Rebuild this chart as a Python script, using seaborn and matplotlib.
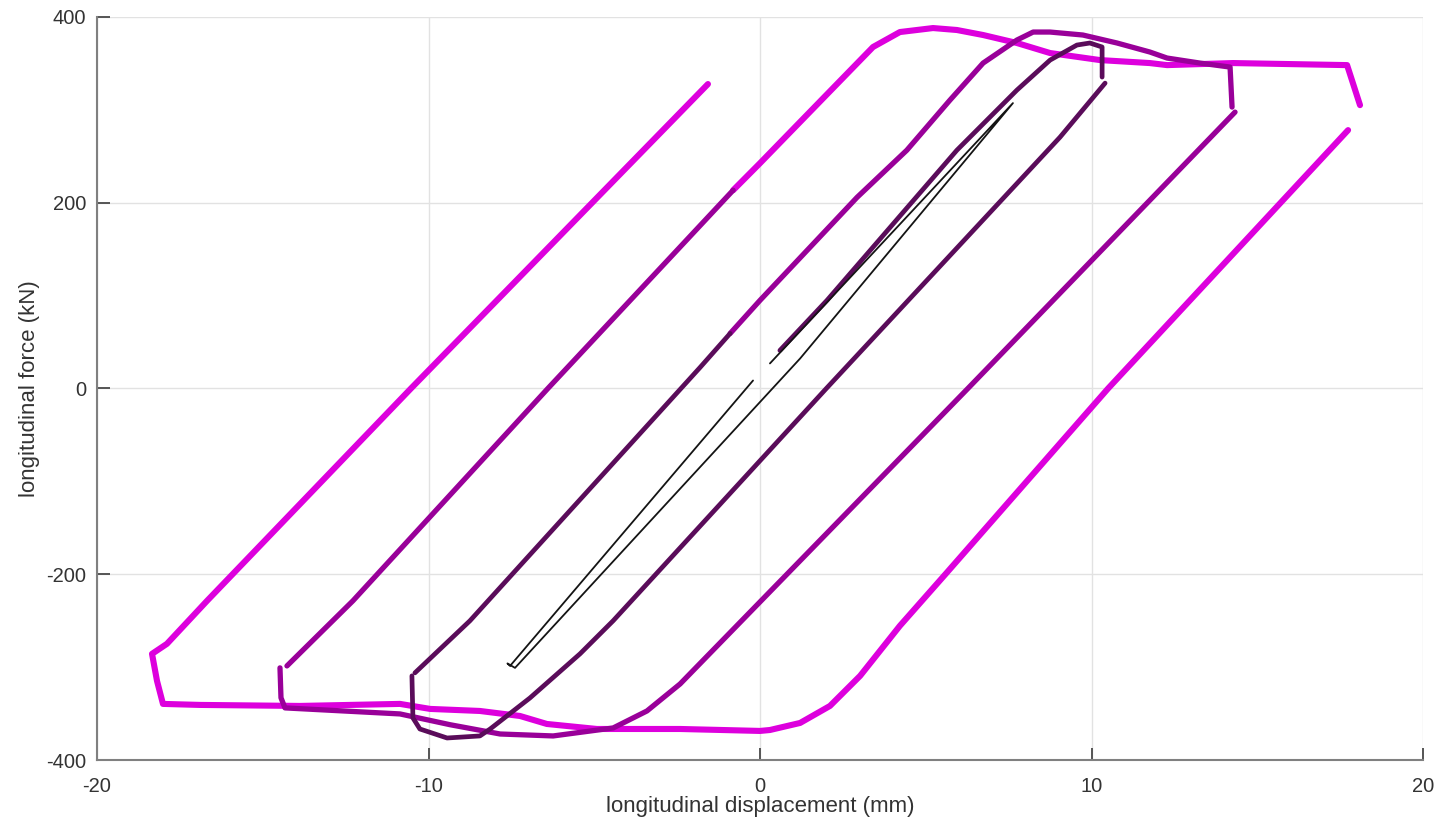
import numpy as np
import pandas as pd
import matplotlib
matplotlib.use("Agg")
import matplotlib.pyplot as plt
import seaborn as sns

# Hysteresis cycles: longitudinal displacement (mm) vs longitudinal force (kN).
# np.nan marks a break in the recorded trace.
nan = np.nan

c1_disp = [-0.21, -7.54, -7.62, -7.39, 1.21, 7.63, 0.30]
c1_force = [8.6, -298.7, -296.0, -300.8, 32.3, 307.3, 27.0]

c2_disp = [0.60, 2.02, 5.94, 7.75, 8.75, 9.56, 9.95, 10.32, 10.32, nan,
           10.41, 9.05, 2.0, -4.43, -5.43, -6.94, -8.14, -8.45, -9.44, -10.26, -10.47, -10.50, nan,
           -10.41, -8.75, -1.81, -0.90]
c2_force = [41.0, 94.9, 256.6, 321.3, 353.6, 369.8, 372.0, 367.7, 335.3, nan,
            328.8, 270.6, 0.0, -250.1, -285.7, -333.2, -366.6, -374.1, -376.3, -366.6, -354.7, -309.4, nan,
            -306.2, -250.1, 22.6, 59.3]

c3_disp = [-0.90, 0.0, 2.93, 4.43, 5.73, 6.73, 7.75, 8.24, 8.75, 9.74, 10.77, 11.76, 12.28, 13.27, 14.18, 14.24, nan,
           14.33, 11.76, 6.27, -2.41, -3.41, -4.43, -6.24, -7.84, -9.35, -10.86, -14.33, -14.45, -14.48, nan,
           -14.27, -12.28, -6.4, -0.81]
c3_force = [59.3, 94.9, 205.9, 256.6, 310.5, 350.4, 375.2, 383.8, 383.8, 380.6, 372.0, 362.3, 355.8, 350.4, 346.1, 303.0, nan,
            297.6, 202.7, 0.0, -318.1, -347.2, -365.5, -374.1, -372.0, -362.0, -350.4, -343.9, -333.0, -300.8, nan,
            -298.7, -228.6, 0.0, 213.5]

c4_disp = [-0.81, 0.0, 2.0, 3.41, 4.22, 5.22, 5.94, 6.73, 7.75, 8.75, 10.26, 11.76, 12.28, 14.27, 17.71, 18.10, nan,
           17.74, 10.5, 5.58, 4.22, 3.02, 2.11, 1.21, 0.30, 0.0, -2.41, -4.92, -6.43, -7.24, -8.45, -9.95,
           -10.86, -13.88, -16.89, -18.01, -18.19, -18.34, -17.89, -16.68, -10.53, -1.57]
c4_force = [213.5, 242.6, 316.0, 367.7, 383.8, 388.1, 386.0, 380.6, 372.0, 361.2, 353.6, 350.4, 348.2, 350.4, 348.2, 305.1, nan,
            278.2, 0.0, -200.5, -255.5, -309.4, -341.8, -360.1, -367.7, -368.7, -366.6, -366.6, -361.2, -352.6, -347.2, -345.0,
            -339.6, -341.8, -340.7, -339.6, -314.8, -285.7, -274.9, -228.6, 0.0, 327.8]

cycle_colors = ["#141414", "#5a0c5a", "#990099", "#dd00dd"]
cycle_widths = [1.3, 3.4, 3.8, 4.4]

x_ticks = [-20, -10, 0, 10, 20]
y_ticks = [-400, -200, 0, 200, 400]


def cycle_frame(disp, force):
    df = pd.DataFrame({"disp": disp, "force": force})
    df["seg"] = df["disp"].isna().cumsum()
    return df.dropna().reset_index(drop=True)


frames = [cycle_frame(*c) for c in [(c1_disp, c1_force), (c2_disp, c2_force),
                                     (c3_disp, c3_force), (c4_disp, c4_force)]]

sns.set_theme(style="whitegrid")
plt.rcParams["font.family"] = ["Liberation Sans", "DejaVu Sans"]
plt.rcParams["axes.unicode_minus"] = False

fig = plt.figure(figsize=(14.36, 8.22), dpi=100)
ax = fig.add_axes([97 / 1436, 1 - 760 / 822, (1423 - 97) / 1436, (760 - 17) / 822])

# widest cycle first so the inner cycles sit on top
for i in [3, 2, 1, 0]:
    sns.lineplot(data=frames[i], x="disp", y="force", units="seg", estimator=None,
                 sort=False, color=cycle_colors[i], linewidth=cycle_widths[i],
                 solid_joinstyle="round", solid_capstyle="round", ax=ax)

ax.set_xlim(-20, 20)
ax.set_ylim(-400, 400)
ax.set_xticks(x_ticks)
ax.set_yticks(y_ticks)
ax.set_facecolor("white")
ax.grid(True, color="#e2e2e2", linewidth=1.0)
ax.set_axisbelow(True)
for s in ["top", "right"]:
    ax.spines[s].set_visible(False)
for s in ["left", "bottom"]:
    ax.spines[s].set_visible(True)
    ax.spines[s].set_color("#808080")
    ax.spines[s].set_linewidth(1.5)
ax.tick_params(axis="both", direction="in", length=9, width=1.4, color="#555555",
               labelsize=14.5, labelcolor="#333333", left=True, bottom=True)
ax.tick_params(axis="x", pad=12)
ax.tick_params(axis="y", pad=8)
ax.set_xlabel("longitudinal displacement (mm)", fontsize=16, color="#333333", labelpad=0)
ax.set_ylabel("longitudinal force (kN)", fontsize=16, color="#333333", labelpad=4)

fig.savefig("out.png", dpi=100, facecolor="white")
